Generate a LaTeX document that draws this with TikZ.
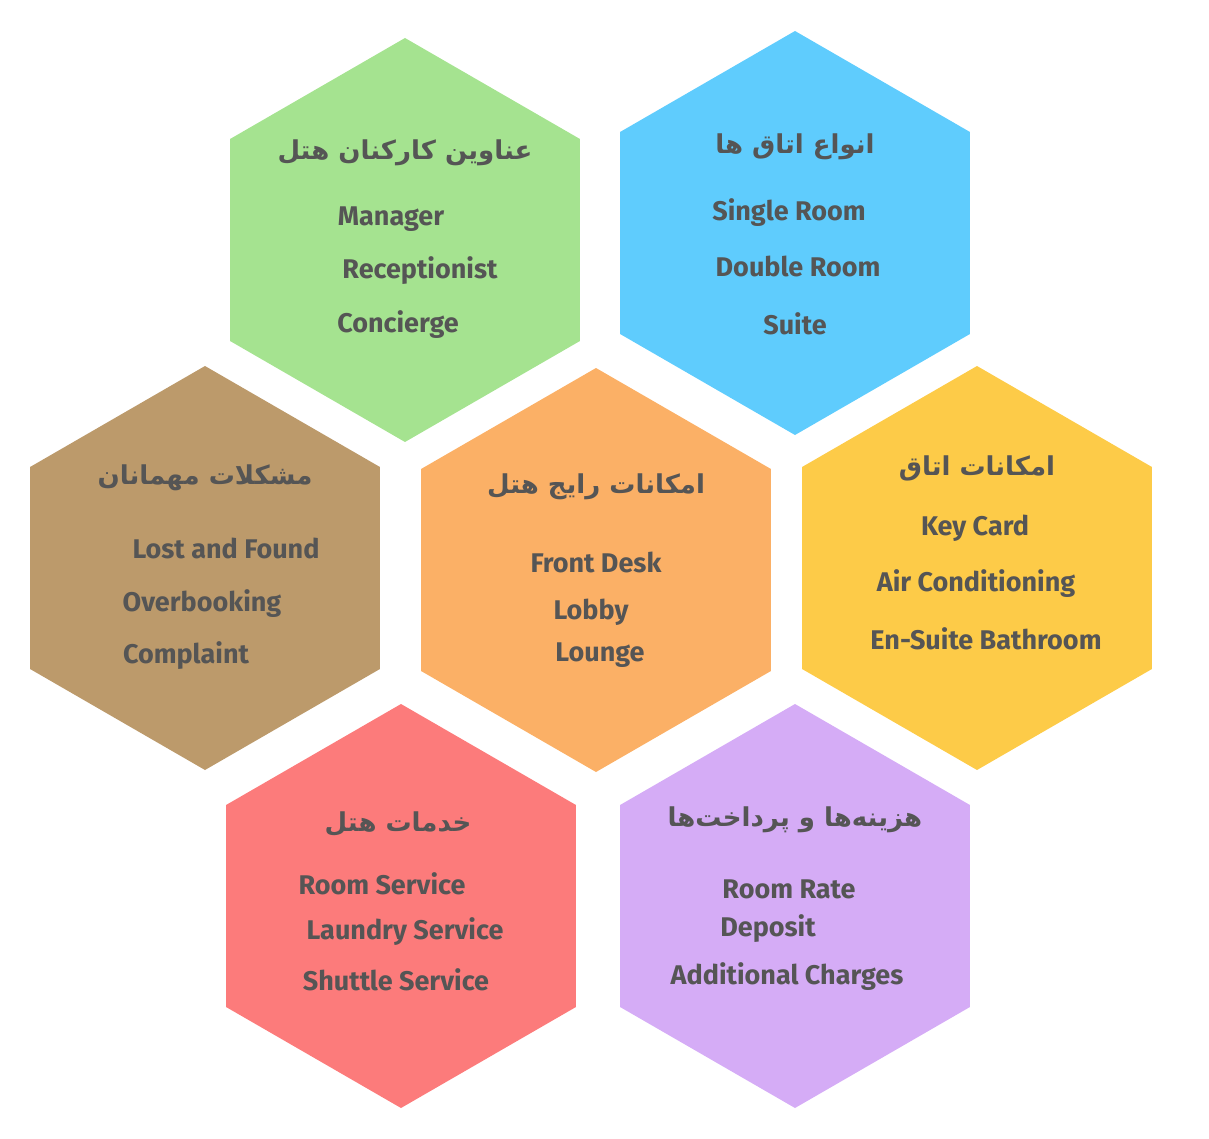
\documentclass[tikz,border=0pt]{standalone}
\usepackage{fontspec}
\setmainfont{Fira Sans}
\newfontfamily\fa[Script=Arabic]{DejaVu Sans}
\TeXXeTstate=1
\definecolor{hexgreen}{HTML}{A5E390}
\definecolor{hexblue}{HTML}{5FCCFD}
\definecolor{hexbrown}{HTML}{BC9A6B}
\definecolor{hexorange}{HTML}{FBB066}
\definecolor{hexyellow}{HTML}{FDCB48}
\definecolor{hexred}{HTML}{FC7B7B}
\definecolor{hexpurple}{HTML}{D5ACF6}
\definecolor{txtgray}{HTML}{555555}
\newcommand{\hexcell}[4]{%
  \coordinate (#1) at (#2,#3);
  \fill[#4] (#1) +(90:202) -- +(150:202) -- +(210:202) -- +(270:202)
    -- +(330:202) -- +(30:202) -- cycle;}
\begin{document}
\begin{tikzpicture}[x=1pt,y=-1pt,
  en/.style={text=txtgray, font=\bfseries\fontsize{27}{30}\selectfont, anchor=center},
  fa/.style={text=txtgray, font=\fa\bfseries\fontsize{26}{30}\selectfont, anchor=center}]
\useasboundingbox (0,0) rectangle (1209,1139);

\hexcell{staff}{405}{240}{hexgreen}
\hexcell{rooms}{795}{233}{hexblue}
\hexcell{problems}{205}{568}{hexbrown}
\hexcell{common}{596}{570}{hexorange}
\hexcell{amenity}{977}{568}{hexyellow}
\hexcell{services}{401}{906}{hexred}
\hexcell{costs}{795}{906}{hexpurple}

% staff
\node[fa] (staffT) at (405,153) {\beginR عناوین کارکنان هتل\endR};
\node[en] (staff1) at (391,219) {Manager};
\node[en] (staff2) at (420,271) {Receptionist};
\node[en] (staff3) at (398,325) {Concierge};

% rooms
\node[fa] (roomsT) at (795,147) {\beginR انواع اتاق ها\endR};
\node[en] (rooms1) at (789,213) {Single Room};
\node[en] (rooms2) at (798,266) {Double Room};
\node[en] (rooms3) at (795,324) {Suite};

% problems
\node[fa] (problemsT) at (205,478) {\beginR مشکلات مهمانان\endR};
\node[en] (problems1) at (226,548) {Lost and Found};
\node[en] (problems2) at (202,604) {Overbooking};
\node[en] (problems3) at (186,656) {Complaint};

% common
\node[fa] (commonT) at (596,487) {\beginR امکانات رایج هتل\endR};
\node[en] (common1) at (596,562) {Front Desk};
\node[en] (common2) at (591,612) {Lobby};
\node[en] (common3) at (600,655) {Lounge};

% amenity
\node[fa] (amenityT) at (977,468) {\beginR امکانات اتاق\endR};
\node[en] (amenity1) at (975,528) {Key Card};
\node[en] (amenity2) at (976,584) {Air Conditioning};
\node[en] (amenity3) at (986,639) {En-Suite Bathroom};

% services
\node[fa] (servicesT) at (398,824) {\beginR خدمات هتل\endR};
\node[en] (services1) at (382,884) {Room Service};
\node[en] (services2) at (405,932) {Laundry Service};
\node[en] (services3) at (396,980) {Shuttle Service};

% costs
\node[fa] (costsT) at (795,820) {\beginR هزینه‌ها و پرداخت‌ها\endR};
\node[en] (costs1) at (789,889) {Room Rate};
\node[en] (costs2) at (768,929) {Deposit};
\node[en] (costs3) at (787,977) {Additional Charges};

\end{tikzpicture}
\end{document}
